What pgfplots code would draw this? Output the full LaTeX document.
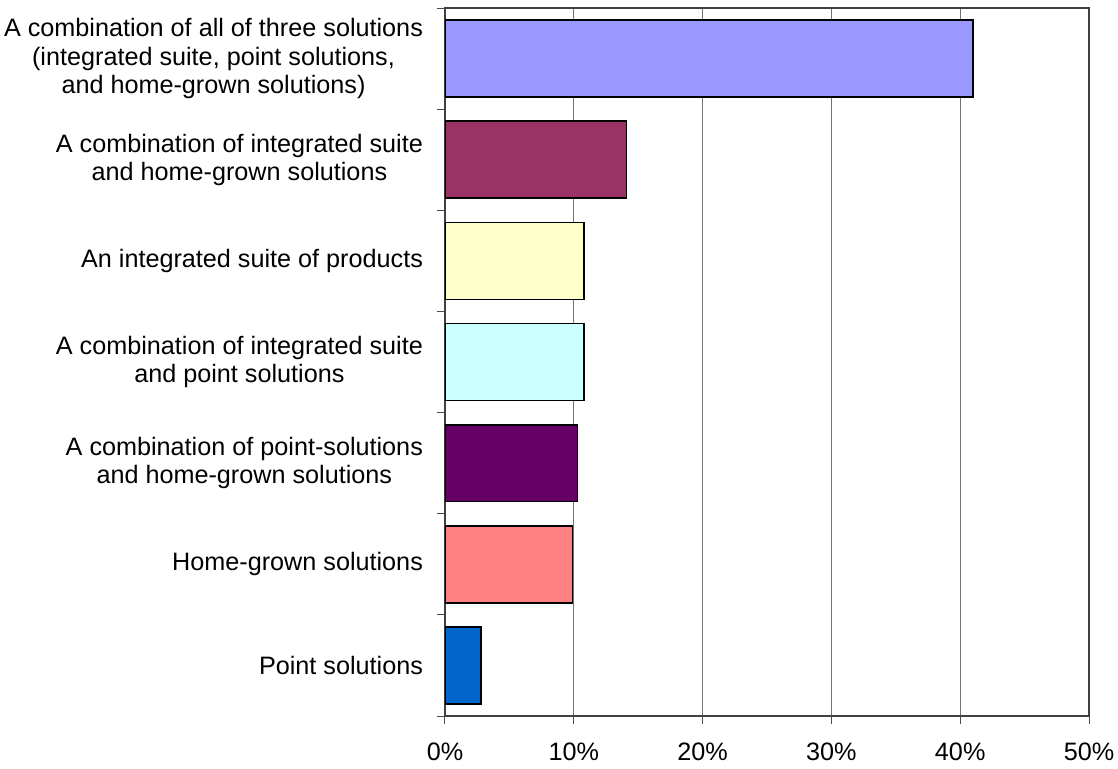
\documentclass[border=0pt]{standalone}
\usepackage{fontspec}
\setmainfont{Liberation Sans}
\usepackage{pgfplots}
\pgfplotsset{compat=1.18}
\definecolor{c1}{HTML}{9999FF}
\definecolor{c2}{HTML}{993366}
\definecolor{c3}{HTML}{FFFFCC}
\definecolor{c4}{HTML}{CCFFFF}
\definecolor{c5}{HTML}{660066}
\definecolor{c6}{HTML}{FF8080}
\definecolor{c7}{HTML}{0066CC}
\begin{document}
\begin{tikzpicture}
\path[use as bounding box] (-222.5pt,-26pt) rectangle (336.5pt,358pt);
\begin{axis}[
  at={(0,0)}, anchor=south west,
  scale only axis, width=322pt, height=354pt,
  xbar, bar width=0.76,
  xmin=0, xmax=50, ymin=-0.5, ymax=6.5,
  xtick={0,10,...,50},
  xticklabels={0\%,10\%,20\%,30\%,40\%,50\%},
  ytick={0,...,6},
  yticklabels={Point solutions,Home-grown solutions,{A combination of point-solutions\\and home-grown solutions},{A combination of integrated suite\\and point solutions},An integrated suite of products,{A combination of integrated suite\\and home-grown solutions},{A combination of all of three solutions\\(integrated suite, point solutions,\\and home-grown solutions)}},
  minor ytick={-0.5,0.5,...,6.5},
  tick pos=left, tick align=outside,
  major tick length=4pt, minor tick length=4pt,
  major y tick style={draw=none},
  tick style={black!70, line width=0.5pt},
  axis line style={black!75, line width=0.6pt},
  xmajorgrids, grid style={black!55, line width=0.4pt},
  tick label style={font=\fontsize{12.6}{14.2}\selectfont},
  yticklabel style={align=center, anchor=east, xshift=-3.5pt},
  xticklabel style={yshift=-6pt},
  every axis plot/.append style={draw=black, line width=0.8pt, bar shift=0pt},
]
\addplot[fill=c7] coordinates {(2.8,0)};
\addplot[fill=c6] coordinates {(9.9,1)};
\addplot[fill=c5] coordinates {(10.3,2)};
\addplot[fill=c4] coordinates {(10.8,3)};
\addplot[fill=c3] coordinates {(10.8,4)};
\addplot[fill=c2] coordinates {(14.1,5)};
\addplot[fill=c1] coordinates {(41.0,6)};
\end{axis}
\end{tikzpicture}
\end{document}
